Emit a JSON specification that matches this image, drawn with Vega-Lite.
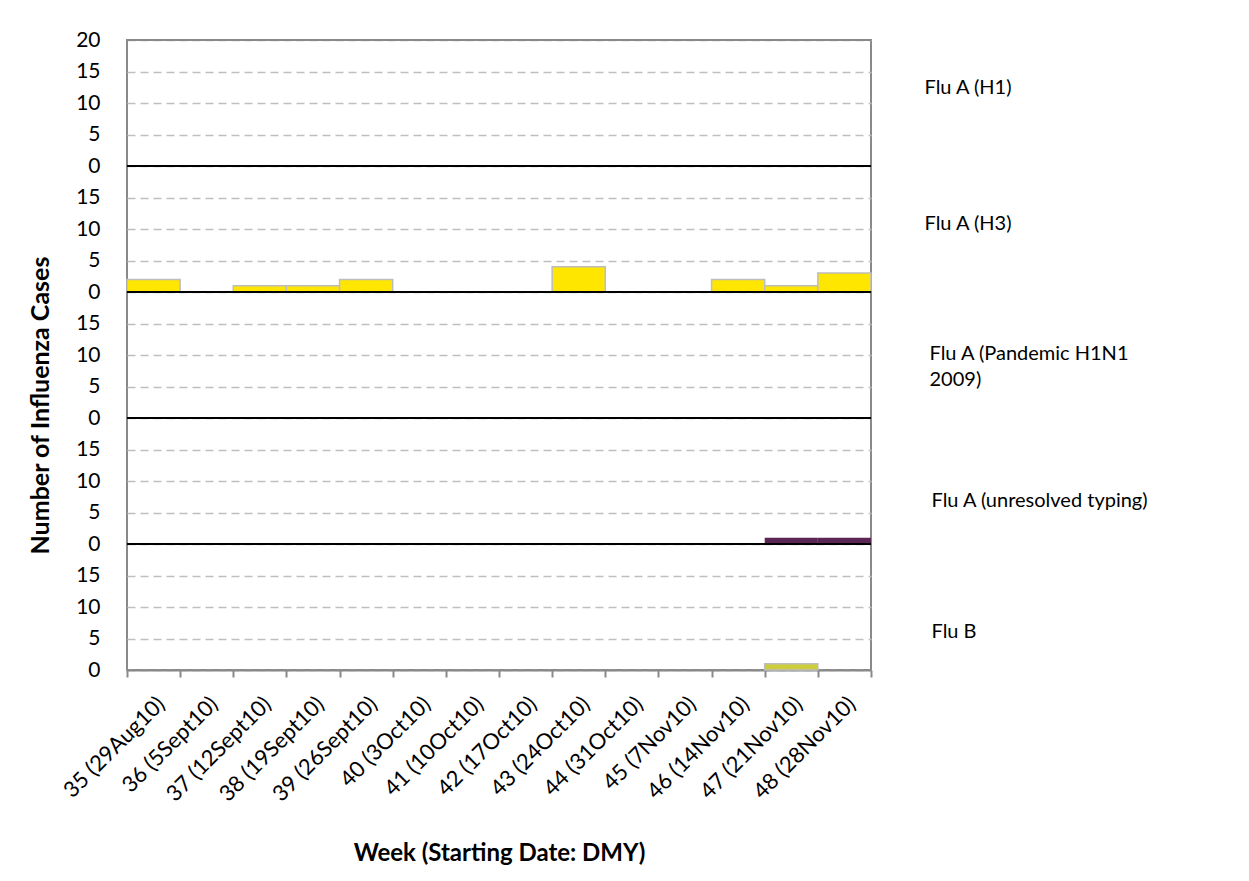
{
  "$schema": "https://vega.github.io/schema/vega-lite/v6.json",
  "padding": {"left": 27, "top": 28, "right": 10, "bottom": 10},
  "background": "white",
  "spacing": 0,
  "bounds": "flush",
  "datasets": {
    "flu": [
      {"panel": "Flu A (H3)", "week": "35 (29Aug10)", "cases": 2},
      {"panel": "Flu A (H3)", "week": "37 (12Sept10)", "cases": 1},
      {"panel": "Flu A (H3)", "week": "38 (19Sept10)", "cases": 1},
      {"panel": "Flu A (H3)", "week": "39 (26Sept10)", "cases": 2},
      {"panel": "Flu A (H3)", "week": "43 (24Oct10)", "cases": 4},
      {"panel": "Flu A (H3)", "week": "46 (14Nov10)", "cases": 2},
      {"panel": "Flu A (H3)", "week": "47 (21Nov10)", "cases": 1},
      {"panel": "Flu A (H3)", "week": "48 (28Nov10)", "cases": 3},
      {"panel": "Flu A (unresolved typing)", "week": "47 (21Nov10)", "cases": 1},
      {"panel": "Flu A (unresolved typing)", "week": "48 (28Nov10)", "cases": 1},
      {"panel": "Flu B", "week": "47 (21Nov10)", "cases": 1}
    ],
    "line": [{"level": 20}]
  },
  "config": {
    "font": "Lato",
    "view": {"stroke": "#898989", "strokeWidth": 2},
    "axis": {"labelColor": "#000000", "titleColor": "#000000", "labelFont": "Lato", "titleFont": "Lato"},
    "axisY": {"ticks": false, "domain": false, "labelPadding": 27, "labelFontSize": 21, "labelFlush": false, "labelOverlap": false, "grid": true, "gridColor": "#BFBFBF", "gridDash": [8, 5], "gridWidth": 1.5},
    "axisRight": {"grid": false, "labelFontSize": 20, "labelAlign": "left", "labelBaseline": "middle", "labelLineHeight": 26, "labelLimit": 400}
  },
  "vconcat": [
    {
      "width": 744, "height": 126,
      "resolve": {"axis": {"y": "independent"}},
      "layer": [
        {
          "data": {"name": "flu"},
          "transform": [{"filter": "datum.panel == 'Flu A (H1)'"}],
          "mark": {"type": "bar", "color": "#FFE600", "stroke": "#BDBDBD", "strokeWidth": 1.5},
          "encoding": {
            "x": {"field": "week", "type": "ordinal", "sort": null, "scale": {"domain": ["35 (29Aug10)", "36 (5Sept10)", "37 (12Sept10)", "38 (19Sept10)", "39 (26Sept10)", "40 (3Oct10)", "41 (10Oct10)", "42 (17Oct10)", "43 (24Oct10)", "44 (31Oct10)", "45 (7Nov10)", "46 (14Nov10)", "47 (21Nov10)", "48 (28Nov10)"], "paddingInner": 0, "paddingOuter": 0}, "axis": null},
            "y": {"field": "cases", "type": "quantitative", "scale": {"domain": [0, 20], "nice": false}, "axis": {"title": null, "values": [0, 5, 10, 15, 20]}}
          }
        },
        {
          "data": {"name": "line"},
          "mark": {"type": "rule", "color": "#898989", "strokeWidth": 2},
          "encoding": {"y": {"field": "level", "type": "quantitative", "scale": {"domain": [0, 20], "nice": false}, "axis": {"orient": "right", "title": null, "values": [12.5], "labelExpr": "'Flu A (H1)'", "labelPadding": 53}}}
        }
      ]
    },
    {
      "width": 744, "height": 126,
      "resolve": {"axis": {"y": "independent"}},
      "layer": [
        {
          "data": {"name": "flu"},
          "transform": [{"filter": "datum.panel == 'Flu A (H3)'"}],
          "mark": {"type": "bar", "color": "#FFE600", "stroke": "#BDBDBD", "strokeWidth": 1.5},
          "encoding": {
            "x": {"field": "week", "type": "ordinal", "sort": null, "scale": {"domain": ["35 (29Aug10)", "36 (5Sept10)", "37 (12Sept10)", "38 (19Sept10)", "39 (26Sept10)", "40 (3Oct10)", "41 (10Oct10)", "42 (17Oct10)", "43 (24Oct10)", "44 (31Oct10)", "45 (7Nov10)", "46 (14Nov10)", "47 (21Nov10)", "48 (28Nov10)"], "paddingInner": 0, "paddingOuter": 0}, "axis": null},
            "y": {"field": "cases", "type": "quantitative", "scale": {"domain": [0, 20], "nice": false}, "axis": {"title": null, "values": [0, 5, 10, 15]}}
          }
        },
        {
          "data": {"name": "line"},
          "mark": {"type": "rule", "color": "#000000", "strokeWidth": 2},
          "encoding": {"y": {"field": "level", "type": "quantitative", "scale": {"domain": [0, 20], "nice": false}, "axis": {"orient": "right", "title": null, "values": [10.8], "labelExpr": "'Flu A (H3)'", "labelPadding": 53}}}
        }
      ]
    },
    {
      "width": 744, "height": 126,
      "resolve": {"axis": {"y": "independent"}},
      "layer": [
        {
          "data": {"name": "flu"},
          "transform": [{"filter": "datum.panel == 'Flu A (Pandemic H1N1 2009)'"}],
          "mark": {"type": "bar", "color": "#FFE600", "stroke": "#BDBDBD", "strokeWidth": 1.5},
          "encoding": {
            "x": {"field": "week", "type": "ordinal", "sort": null, "scale": {"domain": ["35 (29Aug10)", "36 (5Sept10)", "37 (12Sept10)", "38 (19Sept10)", "39 (26Sept10)", "40 (3Oct10)", "41 (10Oct10)", "42 (17Oct10)", "43 (24Oct10)", "44 (31Oct10)", "45 (7Nov10)", "46 (14Nov10)", "47 (21Nov10)", "48 (28Nov10)"], "paddingInner": 0, "paddingOuter": 0}, "axis": null},
            "y": {"field": "cases", "type": "quantitative", "scale": {"domain": [0, 20], "nice": false}, "axis": {"title": "Number of Influenza Cases", "titleFontSize": 25, "titleFontWeight": "bold", "titlePadding": 22, "titleY": 113, "values": [0, 5, 10, 15]}}
          }
        },
        {
          "data": {"name": "line"},
          "mark": {"type": "rule", "color": "#000000", "strokeWidth": 2},
          "encoding": {"y": {"field": "level", "type": "quantitative", "scale": {"domain": [0, 20], "nice": false}, "axis": {"orient": "right", "title": null, "values": [10.3], "labelExpr": "['Flu A (Pandemic H1N1', '2009)']", "labelPadding": 58}}}
        }
      ]
    },
    {
      "width": 744, "height": 126,
      "resolve": {"axis": {"y": "independent"}},
      "layer": [
        {
          "data": {"name": "flu"},
          "transform": [{"filter": "datum.panel == 'Flu A (unresolved typing)'"}],
          "mark": {"type": "bar", "color": "#5C2654"},
          "encoding": {
            "x": {"field": "week", "type": "ordinal", "sort": null, "scale": {"domain": ["35 (29Aug10)", "36 (5Sept10)", "37 (12Sept10)", "38 (19Sept10)", "39 (26Sept10)", "40 (3Oct10)", "41 (10Oct10)", "42 (17Oct10)", "43 (24Oct10)", "44 (31Oct10)", "45 (7Nov10)", "46 (14Nov10)", "47 (21Nov10)", "48 (28Nov10)"], "paddingInner": 0, "paddingOuter": 0}, "axis": null},
            "y": {"field": "cases", "type": "quantitative", "scale": {"domain": [0, 20], "nice": false}, "axis": {"title": null, "values": [0, 5, 10, 15]}}
          }
        },
        {
          "data": {"name": "line"},
          "mark": {"type": "rule", "color": "#000000", "strokeWidth": 2},
          "encoding": {"y": {"field": "level", "type": "quantitative", "scale": {"domain": [0, 20], "nice": false}, "axis": {"orient": "right", "title": null, "values": [6.9], "labelExpr": "'Flu A (unresolved typing)'", "labelPadding": 60}}}
        }
      ]
    },
    {
      "width": 744, "height": 126,
      "resolve": {"axis": {"y": "independent"}},
      "layer": [
        {
          "data": {"name": "flu"},
          "transform": [{"filter": "datum.panel == 'Flu B'"}],
          "mark": {"type": "bar", "color": "#CDCD3C", "stroke": "#BDBDBD", "strokeWidth": 1.5},
          "encoding": {
            "x": {"field": "week", "type": "ordinal", "sort": null, "scale": {"domain": ["35 (29Aug10)", "36 (5Sept10)", "37 (12Sept10)", "38 (19Sept10)", "39 (26Sept10)", "40 (3Oct10)", "41 (10Oct10)", "42 (17Oct10)", "43 (24Oct10)", "44 (31Oct10)", "45 (7Nov10)", "46 (14Nov10)", "47 (21Nov10)", "48 (28Nov10)"], "paddingInner": 0, "paddingOuter": 0}, "axis": {"title": "Week (Starting Date: DMY)", "titleFontSize": 24, "titleFontWeight": "bold", "titlePadding": 36, "labelAngle": -45, "labelFontSize": 22, "labelPadding": 16, "tickBand": "extent", "tickSize": 7, "tickColor": "#898989", "tickWidth": 2, "domainColor": "#898989", "domainWidth": 2, "labelOverlap": false}},
            "y": {"field": "cases", "type": "quantitative", "scale": {"domain": [0, 20], "nice": false}, "axis": {"title": null, "values": [0, 5, 10, 15]}}
          }
        },
        {
          "data": {"name": "line"},
          "mark": {"type": "rule", "color": "#000000", "strokeWidth": 2},
          "encoding": {"y": {"field": "level", "type": "quantitative", "scale": {"domain": [0, 20], "nice": false}, "axis": {"orient": "right", "title": null, "values": [6.15], "labelExpr": "'Flu B'", "labelPadding": 60}}}
        }
      ]
    }
  ]
}
